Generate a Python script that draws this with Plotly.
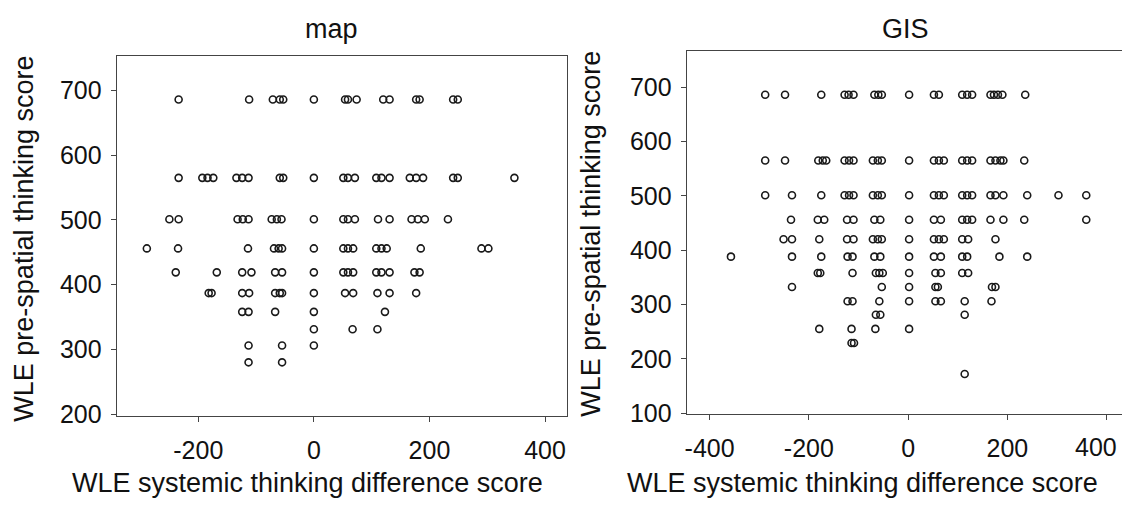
import plotly.graph_objects as go

# ---------------- data ----------------
# y levels (WLE pre-spatial thinking score)
map_levels = [686, 565, 501, 456, 419, 387, 358, 331, 306, 280]
map_x_by_level = [
    [-234, -112, -71, -59, -53, 0, 54, 59, 74, 120, 131, 177, 183, 241, 249],
    [-234, -193, -184, -174, -134, -124, -113, -59, -53, 0, 51, 59, 71, 108, 117, 131, 166, 177, 189, 241, 249, 347],
    [-250, -234, -132, -123, -113, -73, -64, -56, 0, 51, 59, 71, 111, 131, 169, 180, 192, 232],
    [-289, -235, -114, -69, -61, -55, 0, 51, 59, 68, 108, 117, 126, 185, 290, 302],
    [-239, -168, -124, -108, -67, -55, 0, 51, 59, 68, 108, 117, 131, 174, 183],
    [-182, -177, -124, -112, -67, -59, -55, 0, 54, 68, 110, 131, 177],
    [-124, -113, -67, 0, 123],
    [0, 67, 110],
    [-113, -55, 0],
    [-113, -55],
]

gis_levels = [686, 565, 501, 456, 420, 388, 358, 332, 306, 281, 255, 229, 172]
gis_x_by_level = [
    [-288, -248, -175, -128, -120, -110, -68, -60, -53, 2, 52, 62, 109, 119, 129, 166, 173, 181, 190, 236],
    [-288, -248, -181, -172, -165, -128, -119, -110, -71, -61, -53, 2, 52, 62, 72, 109, 119, 129, 166, 176, 186, 192, 234],
    [-288, -234, -175, -128, -119, -110, -71, -61, -53, 2, 52, 62, 72, 109, 119, 129, 166, 176, 192, 240, 303, 359],
    [-236, -182, -169, -123, -110, -68, -56, 2, 52, 66, 109, 119, 129, 166, 192, 234, 359],
    [-251, -234, -179, -123, -110, -71, -61, -53, 2, 52, 62, 72, 109, 121, 176],
    [-357, -234, -175, -122, -112, -68, -56, 2, 52, 66, 109, 119, 184, 240],
    [-182, -177, -112, -65, -58, -51, 2, 55, 66, 109, 121],
    [-234, -53, 2, 55, 60, 169, 176],
    [-122, -112, -58, 2, 55, 66, 114, 168],
    [-65, -56, 114],
    [-179, -114, -66, 2],
    [-114, -109],
    [114],
]

panel_titles = ["map", "GIS"]
x_title = "WLE systemic thinking difference score"
y_title = "WLE pre-spatial thinking score"
map_xticks = [-200, 0, 200, 400]
map_yticks = [200, 300, 400, 500, 600, 700]
gis_xticks = [-400, -200, 0, 200, 400]
gis_yticks = [100, 200, 300, 400, 500, 600, 700]


def flatten(levels, xs):
    px, py = [], []
    for lv, row in zip(levels, xs):
        for v in row:
            px.append(v)
            py.append(lv)
    return px, py


def labels(vals):
    return [str(v) for v in vals]  # plain hyphen minus, as in the picture


mx, my = flatten(map_levels, map_x_by_level)
gx, gy = flatten(gis_levels, gis_x_by_level)

# the last GIS x label is pushed in from the page edge: draw it as a separate label
gis_xtext = labels(gis_xticks)
edge_label = gis_xtext[-1]
gis_xtext[-1] = ""

W, H = 1122, 507
FONT = "Liberation Sans, Arial, sans-serif"
TICK_SIZE = 25
X_STANDOFF = 7

marker = dict(symbol="circle-open", size=7, color="#1a1a1a", line=dict(width=1.6, color="#1a1a1a"))

fig = go.Figure()
fig.add_trace(go.Scatter(x=mx, y=my, mode="markers", marker=marker, xaxis="x", yaxis="y", showlegend=False))
fig.add_trace(go.Scatter(x=gx, y=gy, mode="markers", marker=marker, xaxis="x2", yaxis="y2", showlegend=False))

axis_common = dict(showgrid=False, zeroline=False, showline=True, linecolor="#444", linewidth=1.2,
                   ticks="outside", ticklen=5, tickcolor="#444", tickwidth=1.2,
                   tickfont=dict(family=FONT, size=TICK_SIZE, color="#111"))

gis_y0 = 1 - 424.5 / H

fig.update_layout(
    width=W, height=H,
    margin=dict(l=0, r=0, t=0, b=0),
    paper_bgcolor="white", plot_bgcolor="white",
    xaxis=dict(domain=[115 / W, 566 / W], range=[-341, 438], tickvals=map_xticks, ticktext=labels(map_xticks),
               mirror=True, anchor="y", ticklabelstandoff=X_STANDOFF, **axis_common),
    yaxis=dict(domain=[1 - 427 / H, 1 - 57 / H], range=[197, 754], tickvals=map_yticks, ticktext=labels(map_yticks),
               mirror=True, anchor="x", ticklabelstandoff=4, **axis_common),
    xaxis2=dict(domain=[686 / W, 1.0], range=[-446, 431], tickvals=gis_xticks, ticktext=gis_xtext,
                mirror=True, anchor="y2", ticklabelstandoff=X_STANDOFF, **axis_common),
    yaxis2=dict(domain=[gis_y0, 1 - 52.7 / H], range=[99, 766], tickvals=gis_yticks,
                ticktext=labels(gis_yticks), mirror=False, anchor="x2", ticklabelstandoff=4, **axis_common),
)

ann_font = dict(family=FONT, size=27, color="#111")
annotations = [
    dict(text=panel_titles[0], x=330 / W, y=1 - 30 / H, xref="paper", yref="paper", showarrow=False,
         xanchor="center", yanchor="middle", font=ann_font),
    dict(text=panel_titles[1], x=905 / W, y=1 - 30 / H, xref="paper", yref="paper", showarrow=False,
         xanchor="center", yanchor="middle", font=ann_font),
    dict(text=x_title, x=306 / W, y=0, xref="paper", yref="paper", showarrow=False, borderpad=0,
         xanchor="center", yanchor="bottom", yshift=-5, font=ann_font),
    dict(text=x_title, x=862 / W, y=0, xref="paper", yref="paper", showarrow=False, borderpad=0,
         xanchor="center", yanchor="bottom", yshift=-5, font=ann_font),
    dict(text=y_title, x=22 / W, y=1 - 245 / H, xref="paper", yref="paper", showarrow=False,
         xanchor="center", yanchor="middle", textangle=-90, font=ann_font),
    dict(text=y_title, x=590 / W, y=1 - 240 / H, xref="paper", yref="paper", showarrow=False,
         xanchor="center", yanchor="middle", textangle=-90, font=ann_font),
    # x tick label at the right page edge, placed by the axis scale and nudged inwards
    dict(text=edge_label, x=gis_xticks[-1], xref="x2", y=gis_y0, yref="paper", showarrow=False,
         xanchor="center", yanchor="top", xshift=-11, yshift=-11 - X_STANDOFF, borderpad=0,
         font=dict(family=FONT, size=TICK_SIZE, color="#111")),
]
fig.update_layout(annotations=annotations)

fig.write_html(
    "out.html",
    config={"displayModeBar": False},
    post_script=(
        "document.body.style.margin='0';"
        "document.body.style.overflow='hidden';"
        "document.documentElement.style.overflow='hidden';"
    ),
)
